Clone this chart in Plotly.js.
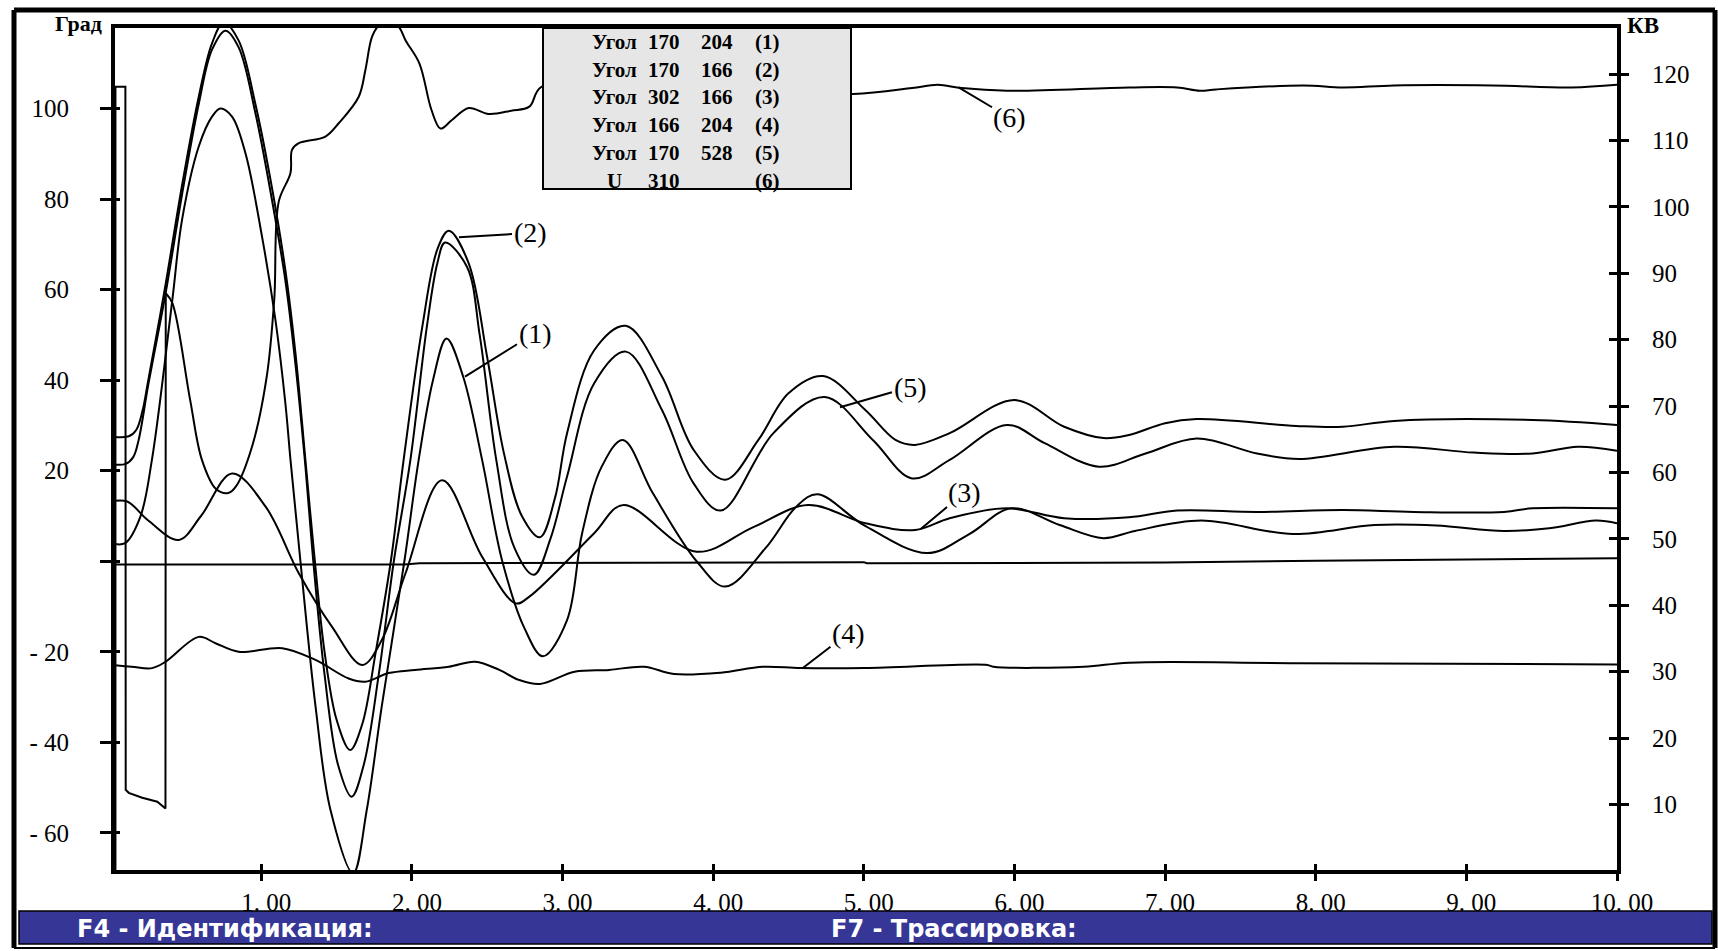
<!DOCTYPE html>
<html>
<head>
<meta charset="utf-8">
<script src="https://cdn.plot.ly/plotly-3.0.1.min.js"></script>
<style>
html,body{margin:0;padding:0;background:#fff;}
#chart{width:1718px;height:951px;}
</style>
</head>
<body>
<div id="chart"></div>
<script>
// ---------------- DATA ----------------
// time, s
const xTickVals = [1,2,3,4,5,6,7,8,9,10];
const xTickText = ['1. 00','2. 00','3. 00','4. 00','5. 00','6. 00','7. 00','8. 00','9. 00','10. 00'];
const yLeftVals = [100,80,60,40,20,0,-20,-40,-60];
const yLeftText = ['100','80','60','40','20','','- 20','- 40','- 60'];
const yRightVals = [120,110,100,90,80,70,60,50,40,30,20,10];
const yRightText = ['120','110','100','90','80','70','60','50','40','30','20','10'];

// legend table
const legendName = ['Угол','Угол','Угол','Угол','Угол','U'];
const legendA = ['170','170','302','166','170','310'];
const legendB = ['204','166','166','204','528',''];
const legendId = ['(1)','(2)','(3)','(4)','(5)','(6)'];
const curveLabels = ['(1)','(2)','(3)','(4)','(5)','(6)'];
const axisLeftTitle = 'Град';
const axisRightTitle = 'КВ';
const barText1 = 'F4 - Идентификация:';
const barText2 = 'F7 - Трассировка:';

// (2) Угол 170 166
const tP = [0,0.12,0.17,0.21,0.25,0.364,0.474,0.585,0.673,0.75,0.85,0.961,1.07,1.16,1.227,1.293,1.35,1.42,1.50,1.59,1.67,1.76,1.86,1.945,2.07,2.17,2.245,2.377,2.50,2.61,2.73,2.85,2.95,3.03,3.21,3.42,3.66,3.87,4.08,4.30,4.50,4.73,5.01,5.21,5.34,5.57,6.00,6.33,6.59,6.76,7.00,7.21,7.87,8.18,8.52,9.44,10.0];
const vP = [27.5,27.6,29,33,40,61,83,102.6,114.4,119,115,101,82.7,64.3,46,22.4,2,-20,-35,-41.7,-36,-20,0,22.4,52,69,73,65.8,45,24,10,5.3,14,28.3,46.6,52,40.8,24.6,18,26.8,37.1,40.9,33.4,26.8,25.7,28.3,35.6,29.7,27.2,27.9,30.5,31.4,29.9,29.7,31,31.2,30.1];

// (5) Угол 170 528
const tQ = [0,0.10,0.15,0.186,0.25,0.364,0.474,0.585,0.673,0.762,0.85,0.961,1.07,1.16,1.227,1.293,1.34,1.42,1.51,1.60,1.68,1.78,1.88,1.99,2.10,2.17,2.22,2.366,2.45,2.56,2.68,2.81,2.92,3.03,3.21,3.42,3.66,3.87,4.05,4.40,4.74,5.06,5.32,5.57,5.95,6.20,6.56,6.87,7.21,7.61,7.89,8.52,9.05,9.44,9.74,10.0];
const vQ = [21.4,21.5,23,26.8,39,59,81,101,113,117.2,113.5,99,80,62,43.5,21,2,-25,-45,-52,-45,-25,0,22.4,52,66,70.4,65,50,22.4,3,-3,5,18.7,39.3,46.3,33.4,17.2,11.2,28.3,36.3,26.8,18.3,22.4,30.1,26.1,20.9,23.8,27.1,23.8,22.6,25.3,24,23.8,25.3,24.4];

// (1) Угол 170 204
const tR = [0,0.096,0.197,0.274,0.408,0.474,0.585,0.673,0.729,0.806,0.895,1.005,1.094,1.16,1.194,1.26,1.36,1.46,1.61,1.70,1.80,1.95,2.045,2.14,2.23,2.34,2.466,2.60,2.75,2.87,3.03,3.13,3.26,3.40,3.60,3.89,4.08,4.35,4.55,4.69,5.00,5.42,5.70,5.98,6.30,6.59,6.80,7.24,7.85,8.39,8.80,9.25,9.55,9.86,10.0];
const vR = [4,4,9.8,22.4,57.3,75.4,91.6,98.2,100,98.2,90.1,71.7,53.3,34.9,22.4,0,-32,-55,-68.9,-55,-32,0,22.4,40,49.2,40.8,22.4,0,-15,-21,-13,6.2,20.9,26.8,15,0,-5.6,3,12,14.8,8,1.8,6,11.7,8,5.1,6.7,9,6,8,7.9,6.7,7.3,9,8.4];

// (3) Угол 302 166
const tS = [0,0.11,0.25,0.452,0.60,0.806,1.03,1.25,1.47,1.67,1.80,1.957,2.20,2.466,2.69,2.78,3.21,3.40,3.89,4.27,4.63,5.01,5.34,5.57,5.95,6.33,6.76,7.08,7.61,8.18,8.65,9.25,9.44,10.0];
const vS = [13.2,13.2,9,4.7,10,19.4,12,-2.7,-14.5,-22.9,-17.4,-2.7,17.9,1.0,-9.3,-7.8,6.2,12.4,2.1,7.6,12.4,8.4,6.9,9.5,11.7,9.5,9.7,11.2,10.9,11.3,10.9,10.9,11.7,11.7];

// (4) Угол 166 204
const tC4 = [0.01,0.14,0.275,0.364,0.585,0.696,0.85,1.14,1.36,1.58,1.69,1.846,2.02,2.245,2.42,2.58,2.71,2.85,3.08,3.31,3.54,3.74,4.05,4.33,4.58,5.01,5.82,5.86,6.46,6.76,7.87,10.0];
const vC4 = [-22.9,-23.3,-23.6,-22.2,-16.7,-18.1,-20,-19.2,-21.8,-25.9,-26.6,-24.7,-24,-23.3,-22.2,-24,-26.2,-27.1,-24.4,-24,-23.3,-24.9,-24.6,-23.3,-23.6,-23.6,-22.9,-23.3,-23.3,-22.4,-22.5,-22.8];

// reference angle (near zero)
const tH = [0.03,1.95,2.05,5.0,5.02,7.0,8.0,9.0,10.0];
const vH = [-0.7,-0.7,-0.45,-0.2,-0.45,-0.3,0.1,0.4,0.65];

// (6) U 310, kV (right axis)
const tU = [0.032,0.032,0.098,0.100,0.12,0.21,0.31,0.364,0.366,0.41,0.528,0.606,0.70,0.781,0.832,0.94,1.036,1.086,1.116,1.194,1.204,1.249,1.426,1.514,1.647,1.691,1.735,1.78,1.85,1.91,1.96,2.05,2.13,2.19,2.266,2.377,2.51,2.66,2.78,2.86,3.5,4.2,4.93,5.32,5.49,5.65,5.95,6.76,7.08,7.23,7.34,7.92,8.18,8.52,9.17,9.70,10.0];
const vU = [0,118.1,118.1,12.2,11.75,11.0,10.4,9.4,87,85.5,70.9,61.9,57.5,56.9,57.9,64,74.4,86,100.8,105.1,108.6,109.6,110.6,112.6,116.6,120.6,125.6,127.3,127.8,127.2,125,121.6,114.6,111.8,113.1,114.9,114.0,114.5,115.1,118.1,117.8,117.4,117.0,117.9,118.4,117.9,117.5,118.0,118.0,117.5,117.7,118.3,118.0,118.3,118.3,118.0,118.4];
const uStepEnd = 8; // index where the stepped (fault) part ends

// ---------------- LAYOUT HELPERS ----------------
const W = 1718, H = 951;
const PL = 115, PR = 1617, PT = 28, PB = 870;
const px = x => (x - PL) / (PR - PL);
const py = y => (PB - y) / (PB - PT);
const serif = 'Liberation Serif, Times New Roman, serif';

const lineStyle = {color:'#000', width:2};
function curve(t, v, yaxis, shape){
  return {x:t, y:v, type:'scatter', mode:'lines', yaxis:yaxis||'y',
    line:Object.assign({}, lineStyle, {shape:shape||'spline', smoothing:1}),
    hoverinfo:'skip', showlegend:false};
}

const traces = [
  curve(tP, vP), curve(tQ, vQ), curve(tR, vR), curve(tS, vS),
  curve(tC4, vC4), curve(tH, vH, 'y', 'linear'),
  curve(tU.slice(0, uStepEnd+1), vU.slice(0, uStepEnd+1), 'y2', 'linear'),
  curve(tU.slice(uStepEnd), vU.slice(uStepEnd), 'y2', 'spline'),
  // carriers for the inner tick axes
  {x:[], y:[], type:'scatter', xaxis:'x2', yaxis:'y', showlegend:false, hoverinfo:'skip'},
  {x:[], y:[], type:'scatter', yaxis:'y3', showlegend:false, hoverinfo:'skip'},
  {x:[], y:[], type:'scatter', yaxis:'y4', showlegend:false, hoverinfo:'skip'}
];

const xRange = [0.029, 10];
const yLRange = [-68.19, 117.78];
const yRRange = [0.125, 126.95];
const tickFont = {family:serif, size:25, color:'#000'};

const layout = {
  width:W, height:H,
  margin:{l:PL, r:W-PR, t:PT, b:H-PB, pad:0},
  paper_bgcolor:'#fff', plot_bgcolor:'#fff',
  showlegend:false, hovermode:false,
  xaxis:{range:xRange, tickmode:'array', tickvals:xTickVals, ticktext:xTickText,
    ticks:'outside', ticklen:7, tickwidth:3, tickcolor:'#000',
    showline:true, linewidth:4, linecolor:'#000', mirror:true,
    showgrid:false, zeroline:false, tickfont:tickFont, ticklabelshift:5, ticklabelstandoff:0},
  xaxis2:{range:xRange, overlaying:'x', anchor:'y', side:'bottom', tickmode:'array', tickvals:xTickVals,
    ticks:'inside', ticklen:6, tickwidth:3, tickcolor:'#000', showticklabels:false,
    showline:false, showgrid:false, zeroline:false},
  yaxis:{range:yLRange, tickmode:'array', tickvals:yLeftVals, ticktext:yLeftText,
    ticks:'outside', ticklen:11, tickwidth:3, tickcolor:'#000',
    showline:true, linewidth:4, linecolor:'#000',
    showgrid:false, zeroline:false, tickfont:tickFont, ticklabelstandoff:26},
  yaxis2:{range:yRRange, overlaying:'y', side:'right', anchor:'x', tickmode:'array', tickvals:yRightVals, ticktext:yRightText,
    ticks:'outside', ticklen:8, tickwidth:3, tickcolor:'#000',
    showline:true, linewidth:4, linecolor:'#000',
    showgrid:false, zeroline:false, tickfont:tickFont, ticklabelstandoff:18},
  yaxis3:{range:yLRange, overlaying:'y', side:'left', anchor:'x', tickmode:'array', tickvals:yLeftVals,
    ticks:'inside', ticklen:5, tickwidth:3, tickcolor:'#000', showticklabels:false,
    showline:false, showgrid:false, zeroline:false},
  yaxis4:{range:yRRange, overlaying:'y', side:'right', anchor:'x', tickmode:'array', tickvals:yRightVals,
    ticks:'inside', ticklen:8, tickwidth:3, tickcolor:'#000', showticklabels:false,
    showline:false, showgrid:false, zeroline:false},
  shapes:[], annotations:[]
};

// outer window frame
const frame = [
  {x0:14, y0:10, x1:14, y1:948, w:5},
  {x0:14, y0:10, x1:1715, y1:10, w:5},
  {x0:1715, y0:10, x1:1715, y1:948, w:5},
  {x0:14, y0:948, x1:1715, y1:948, w:2}
];
frame.forEach(f => layout.shapes.push({type:'line', xref:'paper', yref:'paper',
  x0:px(f.x0), y0:py(f.y0), x1:px(f.x1), y1:py(f.y1), line:{color:'#000', width:f.w}, layer:'above'}));

// bottom status bar
layout.shapes.push({type:'rect', xref:'paper', yref:'paper', x0:px(19), x1:px(1712), y0:py(944), y1:py(911),
  fillcolor:'#363696', line:{color:'#000', width:1.5}, layer:'above'});

// legend table box
layout.shapes.push({type:'rect', xref:'paper', yref:'paper', x0:px(543), x1:px(851), y0:py(189), y1:py(28),
  fillcolor:'#e6e6e6', line:{color:'#000', width:2}, layer:'above'});

const ann = layout.annotations;
function txt(text, x, y, font, xanchor){
  ann.push({xref:'paper', yref:'paper', x:px(x), y:py(y), text:text, showarrow:false,
    xanchor:xanchor||'center', yanchor:'middle', font:font});
}
const boldSerif = s => ({family:serif, size:s, color:'#000', weight:'bold'});

txt('<b>'+axisLeftTitle+'</b>', 78, 23, boldSerif(22));
txt('<b>'+axisRightTitle+'</b>', 1643, 25, boldSerif(23));

const rowY0 = 41.7, rowStep = 27.8;
const colX = [614, 664, 717, 767];
for (let i = 0; i < legendName.length; i++){
  const y = rowY0 + i*rowStep;
  [legendName[i], legendA[i], legendB[i], legendId[i]].forEach((s, j) => {
    if (s) txt('<b>'+s+'</b>', colX[j], y, boldSerif(21));
  });
}

// curve labels with leader lines (tip on curve, text centre)
const labelPlace = [
  {tip:[465,376.7], at:[535,333]},
  {tip:[459,237.3], at:[530,233]},
  {tip:[920.4,529.3], at:[965,492]},
  {tip:[802.5,668.3], at:[848.5,633]},
  {tip:[840,407.3], at:[910,387]},
  {tip:[958.6,87.3], at:[1010,118]}
];
curveLabels.forEach((s, i) => {
  const p = labelPlace[i];
  ann.push({xref:'paper', yref:'paper', x:px(p.tip[0]), y:py(p.tip[1]), text:s,
    showarrow:true, arrowhead:0, arrowwidth:2, arrowcolor:'#000', standoff:0, startstandoff:0,
    ax:p.at[0]-p.tip[0], ay:p.at[1]-p.tip[1], font:{family:serif, size:28, color:'#000'}});
});

// status bar texts
const barFont = {family:'DejaVu Sans, Verdana, sans-serif', size:24, color:'#fff', weight:'bold'};
txt('<b>'+barText1+'</b>', 75, 929, barFont, 'left');
txt('<b>'+barText2+'</b>', 829, 929, barFont, 'left');

Plotly.newPlot('chart', traces, layout, {staticPlot:true, displayModeBar:false});
</script>
</body>
</html>
